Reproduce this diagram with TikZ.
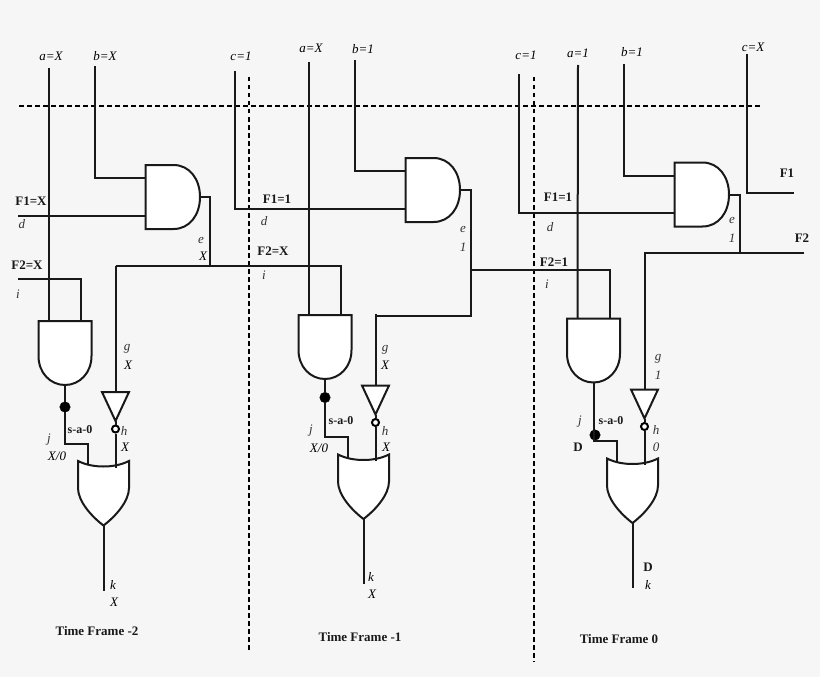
\documentclass[tikz,border=0pt]{standalone}
\usepackage{fontspec}
\setmainfont{Liberation Serif}
\definecolor{bgc}{HTML}{F6F6F6}
\tikzset{
  wire/.style={line width=2pt,line join=miter,black!90},
  gate/.style={line width=2pt,fill=white,draw=black!90,line join=miter},
  sep/.style={line width=2pt,black,dash pattern=on 4.5pt off 3.5pt},
  sig/.style={font=\fontsize{13}{14}\selectfont\itshape,inner sep=0pt,text=black},
  pin/.style={font=\fontsize{13}{14}\selectfont\itshape,inner sep=0pt,text=black!80},
  net/.style={font=\fontsize{13}{14}\selectfont\bfseries,inner sep=0pt,text=black!90},
  fault/.style={circle,fill=black,draw=black,inner sep=0pt,minimum size=10.5pt},
  bubble/.style={circle,fill=white,draw=black,line width=2pt,inner sep=0pt,minimum size=7pt},
  andh/.pic={
    \draw[gate] (0,0) -- (28,0) .. controls (44,0) and (54.5,14) .. (54.5,32)
      .. controls (54.5,50) and (44,64) .. (28,64) -- (0,64) -- cycle;
    \coordinate (-a) at (0,13); \coordinate (-b) at (0,50.5); \coordinate (-o) at (54.5,32);
  },
  andv/.pic={
    \draw[gate] (0,0) -- (53,0) -- (53,35) .. controls (53,52) and (41,64) .. (26.5,64)
      .. controls (12,64) and (0,52) .. (0,35) -- cycle;
    \coordinate (-a) at (10.5,0); \coordinate (-b) at (42.5,0); \coordinate (-o) at (26.5,64);
  },
  orv/.pic={
    \draw[gate] (0,0) .. controls (8,4) and (17,5.5) .. (25.5,5.5)
      .. controls (34,5.5) and (43,4) .. (51,0) -- (51,27)
      .. controls (51,40) and (38,55) .. (25.5,64.5)
      .. controls (13,55) and (0,40) .. (0,27) -- cycle;
    \coordinate (-a) at (10,4); \coordinate (-b) at (37.5,6.5); \coordinate (-o) at (25.5,64.5);
  },
  invv/.pic={
    \draw[gate] (-13.5,0) -- (13.5,0) -- (0,29) -- cycle;
    \coordinate (-i) at (0,0); \coordinate (-t) at (0,29);
    \node[bubble] (-n) at (0,37) {};
  },
}
\begin{document}
\begin{tikzpicture}[x=1pt,y=-1pt]
\fill[bgc] (0,0) rectangle (820,677);
\useasboundingbox (0,0) rectangle (820,677);

% separators
\coordinate (hl) at (19,106); \coordinate (hr) at (762,106);
\coordinate (v1t) at (249,77); \coordinate (v1b) at (249,652);
\coordinate (v2t) at (534,77); \coordinate (v2b) at (534,662);
\draw[sep] (hl) -- (hr);
\draw[sep] (v1t) -- (v1b);
\draw[sep] (v2t) -- (v2b);

% ---------- frame -2
\pic (A1) at (145.5,165) {andh};
\pic (B1) at (38.5,321) {andv};
\pic (C1) at (78,461) {orv};
\pic (I1) at (115.5,392) {invv};
\coordinate (a1) at (49,68); \coordinate (b1) at (95,66);
\coordinate (d1) at (18,215.5); \coordinate (i1) at (18,279);
\coordinate (e1) at (210,266); \coordinate (g1) at (115.5,266);
\coordinate (k1) at (103.5,591); \coordinate (jb1) at (88,444);
\node[fault] (f1) at (65,407) {};
\draw[wire] (a1) -- (B1-a);
\draw[wire] (b1) |- (A1-a);
\draw[wire] (d1) -- (A1-b);
\draw[wire] (i1) -| (B1-b);
\draw[wire] (A1-o) -| (e1);
\draw[wire] (g1) -- (I1-i);
\draw[wire] (B1-o) -- (f1);
\draw[wire] (f1) |- (jb1) -- (C1-a);
\draw[wire] (I1-t) -- (I1-n);
\draw[wire] (I1-n) -- (C1-b);
\draw[wire] (C1-o) -- (k1);

% ---------- frame -1
\pic (A2) at (405.5,158) {andh};
\pic (B2) at (298.5,315) {andv};
\pic (C2) at (338,454.5) {orv};
\pic (I2) at (375.5,385.5) {invv};
\coordinate (a2) at (309,62); \coordinate (b2) at (355,60);
\coordinate (c2) at (235,71); \coordinate (e2) at (470.5,315.5);
\coordinate (g2) at (375.5,313.5); \coordinate (k2) at (363.5,584);
\coordinate (jb2) at (348,437); \coordinate (gs2) at (375.5,315.5);
\draw[wire] (a2) -- (B2-a);
\draw[wire] (b2) |- (A2-a);
\draw[wire] (c2) |- (A2-b);
\draw[wire] (g1) -| (B2-b);
\draw[wire] (A2-o) -| (e2) -- (gs2);
\draw[wire] (g2) -- (I2-i);
\node[fault] (f2) at (325,397.5) {};
\draw[wire] (B2-o) -- (f2);
\draw[wire] (f2) |- (jb2) -- (C2-a);
\draw[wire] (I2-t) -- (I2-n);
\draw[wire] (I2-n) -- (C2-b);
\draw[wire] (C2-o) -- (k2);

% ---------- frame 0
\pic (A3) at (674.5,162.5) {andh};
\pic (B3) at (567,318.5) {andv};
\pic (C3) at (607,458.5) {orv};
\pic (I3) at (644.5,389.5) {invv};
\coordinate (a3) at (578,65); \coordinate (b3) at (624,64);
\coordinate (c3) at (519,74); \coordinate (x3) at (747,54);
\coordinate (F13) at (794,192.5); \coordinate (F23) at (804,253);
\coordinate (e3) at (740,253); \coordinate (g3) at (644.5,253);
\coordinate (k3) at (632.5,588); \coordinate (jb3) at (617,441);
\coordinate (n3) at (470.5,270); \coordinate (js3) at (593.5,441);
\draw[wire] (a3) -- (B3-a);
\draw[wire] (b3) |- (A3-a);
\draw[wire] (c3) |- (A3-b);
\draw[wire] (x3) |- (F13);
\draw[wire] (A3-o) -| (e3);
\draw[wire] (F23) -- (g3) -- (I3-i);
\draw[wire] (n3) -| (B3-b);
\node[fault] (f3) at (595,435) {};
\draw[wire] (B3-o) -- (js3) -- (jb3) -- (C3-a);
\draw[wire] (I3-t) -- (I3-n);
\draw[wire] (I3-n) -- (C3-b);
\draw[wire] (C3-o) -- (k3);

% ---------- labels frame -2
\node[sig] (ta1) at (51,56) {a=X};
\node[sig] (tb1) at (105,56) {b=X};
\node[sig] (tc1) at (241,56) {c=1};
\node[net] (tf11) at (31,201) {F1=X};
\node[pin] (td1) at (22,224) {d};
\node[net] (tf21) at (27,265) {F2=X};
\node[pin] (ti1) at (18,294) {i};
\node[pin] (te1) at (201,240) {e};
\node[sig] (tex1) at (203,256) {X};
\node[pin] (tg1) at (127,349) {g};
\node[sig] (tgx1) at (128,365) {X};
\node[net,font=\fontsize{12}{14}\selectfont\bfseries] (ts1) at (80,430) {s-a-0};
\node[pin] (th1) at (124,431) {h};
\node[sig] (thx1) at (125,447) {X};
\node[pin] (tj1) at (49,440) {j};
\node[sig] (tjx1) at (57,456) {X/0};
\node[sig] (tk1) at (113,585) {k};
\node[sig] (tkx1) at (114,602) {X};
\node[net] (tt1) at (97,631) {Time Frame -2};

% ---------- labels frame -1
\node[sig] (ta2) at (311,48) {a=X};
\node[sig] (tb2) at (363,49) {b=1};
\node[sig] (tc2) at (526,55) {c=1};
\node[net] (tf12) at (277,199) {F1=1};
\node[pin] (td2) at (264,221) {d};
\node[net] (tf22) at (273,251) {F2=X};
\node[pin] (ti2) at (264,275) {i};
\node[pin] (te2) at (463,229) {e};
\node[pin] (tex2) at (463,247) {1};
\node[pin] (tg2) at (385,350) {g};
\node[sig] (tgx2) at (385,365) {X};
\node[net,font=\fontsize{12}{14}\selectfont\bfseries] (ts2) at (341,421) {s-a-0};
\node[pin] (th2) at (385,431) {h};
\node[sig] (thx2) at (386,447) {X};
\node[pin] (tj2) at (311,431) {j};
\node[sig] (tjx2) at (319,448) {X/0};
\node[sig] (tk2) at (371,577) {k};
\node[sig] (tkx2) at (372,594) {X};
\node[net] (tt2) at (360,637) {Time Frame -1};

% ---------- labels frame 0
\node[sig] (ta3) at (578,53) {a=1};
\node[sig] (tb3) at (632,52) {b=1};
\node[sig] (tc3) at (753,47) {c=X};
\node[net] (tf13) at (558,197) {F1=1};
\node[pin] (td3) at (550,227) {d};
\node[net] (tf23) at (554,262) {F2=1};
\node[pin] (ti3) at (547,284) {i};
\node[pin] (te3) at (732,220) {e};
\node[pin] (tex3) at (732,238) {1};
\node[net] (to1) at (787,173) {F1};
\node[net] (to2) at (802,238) {F2};
\node[pin] (tg3) at (658,359) {g};
\node[pin] (tgx3) at (658,375) {1};
\node[pin] (tj3) at (580,422) {j};
\node[net,font=\fontsize{12}{14}\selectfont\bfseries] (ts3) at (611,421) {s-a-0};
\node[pin] (th3) at (656,430) {h};
\node[pin] (thx3) at (656,447) {0};
\node[net] (tD3) at (578,447) {D};
\node[net] (tDk3) at (648,567) {D};
\node[sig] (tk3) at (648,585) {k};
\node[net] (tt3) at (619,639) {Time Frame 0};
\end{tikzpicture}
\end{document}
